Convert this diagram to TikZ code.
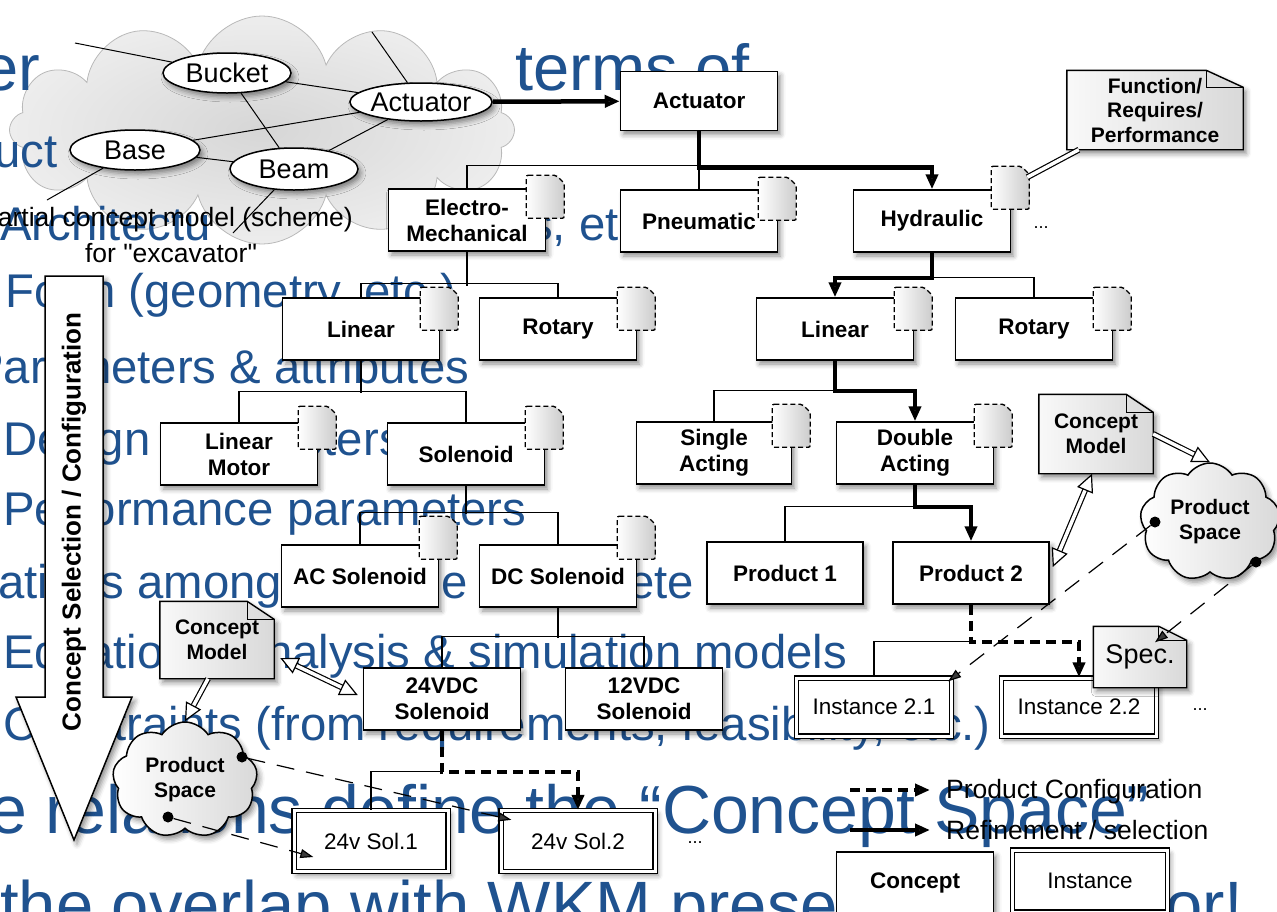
\documentclass[tikz,border=0pt]{standalone}
\usepackage{fontspec}
\setmainfont{Liberation Sans}
\usetikzlibrary{arrows.meta}
\usetikzlibrary{shapes.geometric}
\usetikzlibrary{shapes.symbols}
\usetikzlibrary{shadows.blur}

\definecolor{slideblue}{RGB}{31,82,143}

\newcommand{\fsz}[2]{\fontsize{#1}{#2}\selectfont}

\tikzset{
  shad/.style={blur shadow={shadow xshift=3pt, shadow yshift=-4pt, shadow blur radius=5pt, shadow opacity=45}},
  concept/.style={draw, line width=1.5pt, fill=white, shad, minimum width=157pt, minimum height=62pt, align=center, inner sep=2pt, font=\bfseries\fsz{22.5}{26}},
  instance/.style={concept, font=\fsz{22.5}{26}, line width=1.3pt, double=white, double distance=3pt},
  icon/.style={line width=1.4pt, dash pattern=on 5pt off 3pt, left color=white, right color=gray!40, rounded corners=2pt},
  tline/.style={line width=1.3pt},
  refine/.style={line width=4.5pt, -{Triangle[length=15pt,width=12pt]}},
  config/.style={refine, dash pattern=on 10pt off 6pt},
  docbody/.style={draw, line width=1.4pt, left color=gray!5, right color=gray!30, shad},
  doclabel/.style={align=center, inner sep=0pt, font=\bfseries\fsz{21}{24.5}},
  prodspace/.style={cloud, cloud puffs=9, cloud puff arc=115, aspect=1.2, draw, line width=1.5pt, left color=white, right color=gray!30, shad, align=center, inner sep=0pt, font=\bfseries\fsz{21}{25}},
  blackdot/.style={circle, fill=black, minimum size=11pt, inner sep=0pt},
  hollow/.style={line width=1.2pt, double=white, double distance=3.5pt},
  hollowtip/.tip={Triangle[open, length=18pt, width=17pt, fill=white]},
  specline/.style={line width=1.2pt, dash pattern=on 18pt off 12pt, -{Triangle[length=13pt, width=9pt]}},
  slide/.style={text=slideblue, anchor=base west, inner sep=0pt, font=\fsz{47.3}{52}},
  slidebig/.style={slide, font=\fsz{67}{70}},
  partn/.style={ellipse, draw, line width=1.5pt, fill=white, shad, minimum width=128pt, minimum height=40pt, inner sep=0pt, font=\fsz{27}{30}},
  captext/.style={inner sep=0pt, font=\fsz{26.5}{30}},
  moretext/.style={inner sep=0pt, font=\fsz{18}{20}},
}

% small dashed sheet on the corner of a concept box
\newcommand{\tabicon}[2]{%
  \draw[icon] ([shift={(-20,-#2)}]#1.north east) -- ++(30,0) -- ++(8,8) -- ++(0,35) -- ++(-38,0) -- cycle;
}

% sheet with a folded corner
\newcommand{\docnote}[8]{%
  \node[minimum width=#4pt, minimum height=#5pt, inner sep=0pt] (#1) at (#2,#3) {};
  \path[docbody] (#1.north west) -- ([xshift=-#6pt]#1.north east) -- ([yshift=-#7pt]#1.north east) -- (#1.south east) -- (#1.south west) -- cycle;
  \draw[line width=1pt] ([xshift=-#6pt]#1.north east) |- ([yshift=-#7pt]#1.north east);
  \node[doclabel] (#1-t) at (#1) {#8};
}

\begin{document}
\begin{tikzpicture}[x=1pt, y=-1pt]
\useasboundingbox (0,0) rectangle (1277,911);
\clip (0,0) rectangle (1277,911);

% partial concept model (scheme)
\node[cloud, cloud puffs=12, aspect=2.3, draw=gray!55, line width=0.8pt, inner color=gray!32, outer color=gray!14, minimum width=505pt, minimum height=228pt] (scheme) at (262,130) {};

% slide text behind the diagram
\node[slide, font=\fsz{65}{70}] (tA) at (-18,90) {er};
\node[slide, font=\fsz{65}{70}] (tB) at (515,90) {terms of};
\node[slide] (tC) at (-6,167) {uct};
\node[slide] (tD) at (0,240) {Architectu};
\node[slide] (tE) at (529,240) {s, etc.)};
\node[slide] (tF) at (5,307) {Form (geometry, etc.)};
\node[slide] (tG) at (-28,383) {Parameters \& attributes};
\node[slide] (tH) at (3,455) {Design parameters};
\node[slide] (tI) at (3,525) {Performance parameters};
\node[slide] (tJ) at (-2,598) {ations among};
\node[slide] (tK) at (441,598) {e};
\node[slide] (tL) at (628,598) {ete};
\node[slide] (tM) at (3,668) {Equations, analysis \& simulation models};
\node[slide] (tN) at (3,740) {Constraints (from requirements, feasibility, etc.)};
\node[slidebig, font=\fsz{68}{72}, anchor=base east] (tO) at (1150,833) {The relations define the “Concept Space”};
\node[slidebig] (tP) at (0,928) {the overlap with WKM prese};
\node[slidebig] (tQ) at (1165,928) {or!};

\node[partn] (ebuck) at (227,73) {Bucket};
\node[partn, minimum width=127pt, minimum height=38pt] (eact) at (421,102) {Actuator};
\node[partn, minimum width=130pt] (ebase) at (135,150) {Base};
\node[partn, minimum height=42pt] (ebeam) at (294,169) {Beam};
\coordinate (o1) at (75,43);
\coordinate (o2) at (372,32);
\coordinate (o3) at (47,200);
\coordinate (o4) at (233,233);
\draw[line width=1pt] (ebuck) -- (eact);
\draw[line width=1pt] (ebuck) -- (ebeam);
\draw[line width=1pt] (ebase) -- (eact);
\draw[line width=1pt] (ebase) -- (ebeam);
\draw[line width=1pt] (ebeam) -- (eact);
\draw[line width=1pt] (ebuck) -- (o1);
\draw[line width=1pt] (eact) -- (o2);
\draw[line width=1pt] (ebase) -- (o3);
\draw[line width=1pt] (ebeam) -- (o4);
\node[captext] (cap1) at (168,220) {partial concept model (scheme)};
\node[captext] (cap2) at (171,253) {\addfontfeatures{Ligatures=TeXOff}for "excavator"};

% big selection arrow
\filldraw[fill=white, line width=1.5pt, shad] (45,276) -- (103,276) -- (103,697) -- (132,697) -- (74,840) -- (16,697) -- (45,697) -- cycle;
\node[rotate=90, inner sep=0pt, font=\bfseries\fsz{26}{30}] (csel) at (74,522) {Concept Selection / Configuration};

% concept tree
\node[concept, minimum height=59pt] (act) at (699,101) {Actuator};
\node[concept] (em) at (467,220) {Electro-\\Mechanical};
\node[concept] (pneu) at (699,221) {Pneumatic};
\node[concept] (hyd) at (932,221) {Hydraulic};
\node[concept] (linl) at (361,329) {Linear};
\node[concept] (rotl) at (558,329) {Rotary};
\node[concept] (linr) at (835,329) {Linear};
\node[concept] (rotr) at (1034,329) {Rotary};
\node[concept] (lmot) at (239,454) {Linear\\Motor};
\node[concept] (sol) at (466,454) {Solenoid};
\node[concept, minimum width=155pt] (sing) at (714,453) {Single\\Acting};
\node[concept] (dbl) at (915,453) {Double\\Acting};
\node[concept] (acs) at (360,576) {AC Solenoid};
\node[concept] (dcs) at (558,576) {DC Solenoid};
\node[concept, minimum width=156pt] (prod1) at (785,573) {Product 1};
\node[concept, minimum width=156pt] (prod2) at (971,573) {Product 2};
\node[concept] (v24) at (442,699) {24VDC\\Solenoid};
\node[concept] (v12) at (644,699) {12VDC\\Solenoid};
\node[instance, minimum width=155pt, minimum height=58pt] (inst21) at (874,707) {Instance 2.1};
\node[instance, minimum width=155pt, minimum height=58pt] (inst22) at (1079,707) {Instance 2.2};
\node[instance, minimum width=154pt, minimum height=61pt] (sol1) at (371,841) {24v Sol.1};
\node[instance, minimum width=154pt, minimum height=61pt] (sol2) at (578,841) {24v Sol.2};
\node[moretext] (more1) at (1041,228) {...};
\node[moretext] (more2) at (1200,710) {...};
\node[moretext] (more3) at (695,843) {...};

\tabicon{em}{13}
\tabicon{pneu}{12}
\tabicon{hyd}{23}
\tabicon{linl}{10}
\tabicon{rotl}{10}
\tabicon{linr}{10}
\tabicon{rotr}{10}
\tabicon{lmot}{16}
\tabicon{sol}{16}
\tabicon{sing}{17}
\tabicon{dbl}{17}
\tabicon{acs}{28}
\tabicon{dcs}{28}

\draw[tline] (em.north) -- ++(0,-23) -| (pneu.north);
\draw[refine] (eact) -- (act);
\draw[refine] (act.south) -- ++(0,36) -| (hyd.north);
\draw[tline] (em.south) -- ++(0,34);
\draw[tline] (linl.north) -- ++(0,-14) -| (rotl.north);
\draw[tline] (hyd.south) ++(0,25) -| (rotr.north);
\draw[refine] (hyd.south) -- ++(0,25) -| (linr.north);
\draw[tline] (linl.south) -- ++(0,32);
\draw[tline] (lmot.north) -- ++(0,-31) -| (sol.north);
\draw[tline] (sol.south) -- ++(0,28);
\draw[tline] (acs.north) -- ++(0,-32) -| (dcs.north);
\draw[tline] (dcs.south) -- ++(0,30);
\draw[tline] (v24.north) -- ++(0,-31) -| (v12.north);
\draw[tline] (v24.south) ++(0,41) -| (sol1.north);
\draw[config] (v24.south) -- ++(0,41) -| (sol2.north);
\draw[tline] (linr.south) ++(0,30) -| (sing.north);
\draw[refine] (linr.south) -- ++(0,30) -| (dbl.north);
\draw[tline] (dbl.south) ++(0,22) -| (prod1.north);
\draw[refine] (dbl.south) -- ++(0,22) -| (prod2.north);
\draw[tline] (prod2.south) ++(0,37) -| (inst21.north);
\draw[config] (prod2.south) -- ++(0,37) -| (inst22.north);

% models, specs and product spaces
\docnote{fn}{1155}{110}{176}{79}{37}{17}{Function/\\Requires/\\Performance}
\docnote{cmr}{1096}{434}{114}{79}{27}{18}{Concept\\Model}
\docnote{cml}{217}{640}{114}{77}{27}{18}{Concept\\Model}
\docnote{spec}{1140}{657}{93}{61}{28}{14}{\mdseries\fsz{27}{30}Spec.}
\node[prodspace, minimum width=140pt, minimum height=118pt] (psr) at (1210,522) {Product\\Space};
\node[prodspace, minimum width=145pt, minimum height=116pt] (psl) at (185,780) {Product\\Space};
\node[blackdot] (psr1) at (1155,522) {};
\node[blackdot] (psr2) at (1256,562) {};
\node[blackdot] (psl1) at (242,757) {};
\node[blackdot] (psl2) at (168,817) {};

\coordinate (hydtab) at ([shift={(16,-12)}]hyd.north east);
\draw[hollow] ([xshift=12pt]fn.south west) -- (hydtab);
\draw[hollow, hollowtip-hollowtip] ([xshift=-4pt]cmr.south) -- ([shift={(3,-6)}]prod2.east);
\draw[hollow, -hollowtip] (cmr.east) -- (psr.north);
\draw[hollow, -hollowtip] ([xshift=-9pt]cml.south) -- (psl.north);
\draw[hollow, hollowtip-hollowtip] ([shift={(6,18)}]cml.east) -- ([shift={(-5,-4)}]v24.west);
\draw[specline] (psr1) -- ([shift={(-4,4)}]inst21.north east);
\draw[specline] (psr2) -- ([shift={(15,16)}]spec.north);
\draw[specline] (psl1) -- ([shift={(11,10)}]sol2.north west);
\draw[specline] (psl2) -- ([shift={(20,16)}]sol1.west);

% legend
\coordinate (lg1) at (850,790);
\coordinate (lg2) at (930,790);
\coordinate (lg3) at (850,830);
\coordinate (lg4) at (930,830);
\draw[config] (lg1) -- (lg2);
\draw[refine] (lg3) -- (lg4);
\node[captext, anchor=west] (lgconf) at (946,792) {Product Configuration};
\node[captext, anchor=west] (lgrefi) at (946,830) {Refinement / selection};
\node[concept] (lgcon) at (915,883) {Concept};
\node[instance, minimum width=155pt] (lginst) at (1090,881) {Instance};
\end{tikzpicture}
\end{document}
